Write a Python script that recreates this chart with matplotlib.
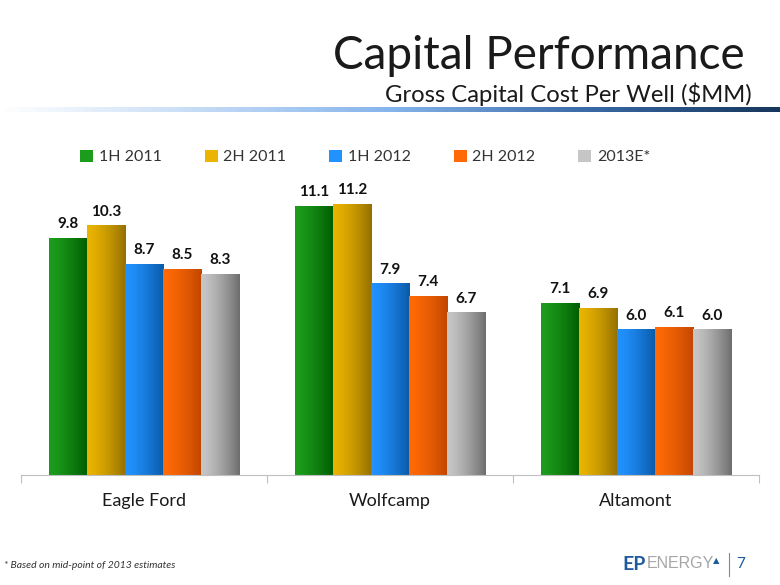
import numpy as np
import matplotlib
matplotlib.use('Agg')
import matplotlib.pyplot as plt
from matplotlib.colors import LinearSegmentedColormap, to_rgb
from matplotlib.patches import Rectangle

plt.rcParams['font.family'] = ['Lato', 'DejaVu Sans']

# 데이터
categories = ['Eagle Ford', 'Wolfcamp', 'Altamont']
series = ['1H 2011', '2H 2011', '1H 2012', '2H 2012', '2013E*']
values = [
    [9.8, 11.1, 7.1],   # 1H 2011
    [10.3, 11.2, 6.9],  # 2H 2011
    [8.7, 7.9, 6.0],    # 1H 2012
    [8.5, 7.4, 6.1],    # 2H 2012
    [8.3, 6.7, 6.0],    # 2013E*
]
# 막대 그라데이션 (왼쪽 밝은색 -> 오른쪽 어두운색)
light = ['#1c9c1c', '#eab400', '#2292ff', '#ff6a06', '#c6c6c6']
dark = ['#005c00', '#957000', '#0a5aa8', '#c24600', '#6e6e6e']


def gradient(c1, c2, n=64):
    a, b = np.array(to_rgb(c1)), np.array(to_rgb(c2))
    t = np.linspace(0, 1, n)[:, None] ** 1.4
    return (a + (b - a) * t)[None, :, :]


fig = plt.figure(figsize=(7.8, 5.85), dpi=100)

# 제목
fig.text(745 / 780, 1 - 56 / 585, 'Capital Performance', ha='right', va='center',
         fontsize=33, color='#1a1a1a')
fig.text(752 / 780, 1 - 94 / 585, 'Gross Capital Cost Per Well ($MM)', ha='right',
         va='center', fontsize=17.2, color='#1a1a1a')

# 제목 아래 파란 그라데이션 선
lax = fig.add_axes([0, 1 - 112 / 585, 1, 5 / 585])
cmap = LinearSegmentedColormap.from_list('bl', ['#ffffff', '#c6dcf6', '#86b4ec', '#3a6aa8', '#16365c'])
lax.imshow(np.linspace(0, 1, 256)[None, :], aspect='auto', cmap=cmap)
lax.axis('off')

ax = fig.add_axes([21 / 780, 1 - 475 / 585, 738 / 780, 295 / 585])
w = 0.1545
x = np.arange(len(categories))
for k, s in enumerate(series):
    g = gradient(light[k], dark[k])
    for i in x:
        x0 = i + (k - 2) * w - w / 2
        h = values[k][i]
        ax.imshow(g, extent=(x0, x0 + w, 0, h), aspect='auto', zorder=2)
        ax.text(x0 + w / 2, h + 0.3, f'{h:.1f}', ha='center', va='bottom',
                fontsize=11, fontweight='bold', color='#111111')

ax.set_xlim(-0.5, 2.5)
ax.set_ylim(0, 12.2)
for sp in ['top', 'left', 'right']:
    ax.spines[sp].set_visible(False)
ax.spines['bottom'].set_color('#bfbfbf')
ax.set_yticks([])
ax.set_xticks([-0.5, 0.5, 1.5, 2.5])
ax.set_xticklabels([])
ax.tick_params(axis='x', which='major', length=6, color='#bfbfbf')
ax.set_xticks(x, minor=True)
ax.set_xticklabels(categories, minor=True, fontsize=13, color='#1a1a1a')
ax.tick_params(axis='x', which='minor', length=0, pad=13)

# 범례
handles = [Rectangle((0, 0), 1, 1, facecolor=light[k], edgecolor='none') for k in range(5)]
fig.legend(handles, series, loc='center left', bbox_to_anchor=(66 / 780, 1 - 157 / 585),
           ncol=5, frameon=False, fontsize=11.5, handlelength=0.8, handleheight=0.8,
           handletextpad=0.35, columnspacing=2.7, labelcolor='#333333')

# 각주와 로고
fig.text(4 / 780, 1 - 565 / 585, '* Based on mid-point of 2013 estimates', fontsize=7.5,
         style='italic', color='#333333', va='center')
fig.text(622 / 780, 1 - 564 / 585, 'EP', fontsize=14, fontweight='bold', color='#1e5b9c',
         va='center')
fig.text(647 / 780, 1 - 564 / 585, 'ENERGY', fontsize=11.5, color='#a6a6a6', va='center',
         family=['Liberation Sans', 'DejaVu Sans'])
fig.text(713 / 780, 1 - 561 / 585, '\u25b2', fontsize=6, color='#1e5b9c', va='center',
         family='DejaVu Sans')
fig.add_artist(plt.Line2D([729 / 780, 729 / 780], [1 - 553 / 585, 1 - 576 / 585],
                          color='#888888', lw=0.8))
fig.text(736 / 780, 1 - 564 / 585, '7', fontsize=11, color='#1e5b9c', va='center')

fig.savefig('out.png', dpi=100)
